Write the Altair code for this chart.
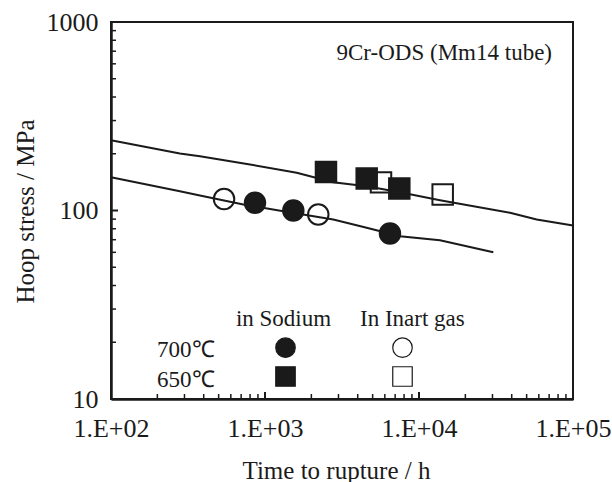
import altair as alt
import pandas as pd

# Creep-rupture results: time to rupture (h) and hoop stress (MPa)
na700_time = [861, 1527, 6480]
na700_stress = [110, 100, 75.5]
gas700_time = [542, 2218]
gas700_stress = [115, 95.2]
na650_time = [2489, 4575, 7450]
na650_stress = [160, 147.8, 130.8]
gas650_time = [5665, 14250]
gas650_stress = [141, 121.6]

# Rupture-strength curves
curve650_time = [100, 280, 378, 799, 1607, 2764, 4571, 7526, 13680, 39000, 58100, 100000]
curve650_stress = [236, 200.7, 194, 175.4, 158.5, 141.3, 134.5, 125, 113.4, 97.2, 89.6, 83.2]
curve700_time = [100, 280, 378, 723, 1315, 2777, 4571, 7526, 13680, 30380]
curve700_stress = [150.2, 126.6, 120.2, 107.6, 99.2, 89.6, 81.0, 73.1, 69.6, 60.1]

# Series names (legend fills column by column)
series_names = ["700℃ in Sodium", "650℃ in Sodium", "700℃ In Inart gas", "650℃ In Inart gas"]

# Axis ticks
x_ticks = [100, 1000, 10000, 100000]
x_tick_labels = ["1.E+02", "1.E+03", "1.E+04", "1.E+05"]
y_ticks = [10, 100, 1000]
minor_steps = [2, 3, 4, 5, 6, 7, 8, 9]

INK = "#1a1a1a"
FONT = "Liberation Serif"
W, H = 462, 377

rows = []
for name, ts, ss in [
    (series_names[2], gas700_time, gas700_stress),
    (series_names[3], gas650_time, gas650_stress),
    (series_names[0], na700_time, na700_stress),
    (series_names[1], na650_time, na650_stress),
]:
    for t, s in zip(ts, ss):
        rows.append({"time": t, "stress": s, "series": name})
points_df = pd.DataFrame(rows)

curve_rows = []
for name, ts, ss in [("650", curve650_time, curve650_stress), ("700", curve700_time, curve700_stress)]:
    for t, s in zip(ts, ss):
        curve_rows.append({"time": t, "stress": s, "curve": name})
curves_df = pd.DataFrame(curve_rows)

x_minor = pd.DataFrame({"time": [k * d for d in x_ticks[:-1] for k in minor_steps]})
x_major = pd.DataFrame({"time": x_ticks[1:-1]})
y_minor = pd.DataFrame({"stress": [k * d for d in y_ticks[:-1] for k in minor_steps]})
y_major = pd.DataFrame({"stress": y_ticks[1:-1]})

xscale = alt.Scale(type="log", domain=[x_ticks[0], x_ticks[-1]], nice=False)
yscale = alt.Scale(type="log", domain=[y_ticks[0], y_ticks[-1]], nice=False)

label_array = "[" + ",".join(f"'{s}'" for s in x_tick_labels) + "]"
value_array = "[" + ",".join(str(v) for v in x_ticks) + "]"

x_axis = alt.Axis(
    values=x_ticks,
    labelExpr=f"{label_array}[indexof({value_array}, datum.value)]",
    ticks=False, tickSize=0, grid=False, labelPadding=16, labelFlush=False,
    title="Time to rupture / h", titleX=225, titleY=79, titleBaseline="alphabetic",
    titleAnchor="start", titleAlign="center",
)
y_axis = alt.Axis(
    values=y_ticks, format="d",
    ticks=False, tickSize=0, grid=False, labelPadding=13, labelFlush=False,
    title="Hoop stress / MPa", titleX=-86, titleY=189, titleBaseline="middle",
    titleAlign="center", titleAngle=270,
)

X = alt.X("time:Q", scale=xscale, axis=x_axis)
Y = alt.Y("stress:Q", scale=yscale, axis=y_axis)

curves = alt.Chart(curves_df).mark_line(color=INK, strokeWidth=2).encode(
    x=X, y=Y, detail="curve:N", order="time:Q"
)

# inward-pointing tick marks on the bottom and left axes
ticks_x_minor = alt.Chart(x_minor).mark_rule(color=INK, strokeWidth=1.5).encode(
    x=X, y=alt.value(H - 5), y2=alt.value(H))
ticks_x_major = alt.Chart(x_major).mark_rule(color=INK, strokeWidth=2).encode(
    x=X, y=alt.value(H - 7), y2=alt.value(H))
ticks_y_minor = alt.Chart(y_minor).mark_rule(color=INK, strokeWidth=1.5).encode(
    y=Y, x=alt.value(0), x2=alt.value(5))
ticks_y_major = alt.Chart(y_major).mark_rule(color=INK, strokeWidth=2).encode(
    y=Y, x=alt.value(0), x2=alt.value(7))

legend = alt.Legend(
    title=None, orient="none", legendX=164, legendY=315, columns=2,
    columnPadding=92, rowPadding=4, labelExpr="''", labelOffset=0,
    symbolSize=380, symbolStrokeWidth=1.2, padding=0, symbolOffset=0,
)

points = alt.Chart(points_df).mark_point(filled=True, size=420, strokeWidth=2, opacity=1).encode(
    x=X, y=Y,
    shape=alt.Shape("series:N", scale=alt.Scale(domain=series_names,
                    range=["circle", "square", "circle", "square"]), legend=legend),
    fill=alt.Fill("series:N", scale=alt.Scale(domain=series_names,
                  range=[INK, INK, "transparent", "transparent"]), legend=legend),
    stroke=alt.Stroke("series:N", scale=alt.Scale(domain=series_names,
                      range=[INK, INK, INK, INK]), legend=legend),
)

def label(text, x, y, align="left"):
    return alt.Chart(pd.DataFrame({"t": [text]})).mark_text(
        font=FONT, fontSize=23, color=INK, align=align, baseline="alphabetic"
    ).encode(text="t:N", x=alt.value(x), y=alt.value(y))

texts = (
    label("9Cr-ODS (Mm14 tube)", 441, 37.5, "right")
    + label("in Sodium", 172.5, 304, "center")
    + label("In Inart gas", 249, 304, "left")
    + label("700℃", 46, 334.7, "left")
    + label("650℃", 46, 364.7, "left")
)

chart = alt.layer(
    curves, ticks_x_minor, ticks_x_major, ticks_y_minor, ticks_y_major, points, texts
).properties(
    width=W, height=H, autosize="none",
    padding={"left": 111, "top": 22, "right": 39, "bottom": 83},
    background="white",
).configure_view(
    stroke=INK, strokeWidth=2
).configure_axis(
    domainColor=INK, domainWidth=2.5, labelFont=FONT, labelFontSize=26, labelColor=INK,
    titleFont=FONT, titleFontSize=25, titleColor=INK, titleFontWeight="normal",
)

chart.save("out.html", embed_options={"renderer": "svg", "actions": False})
